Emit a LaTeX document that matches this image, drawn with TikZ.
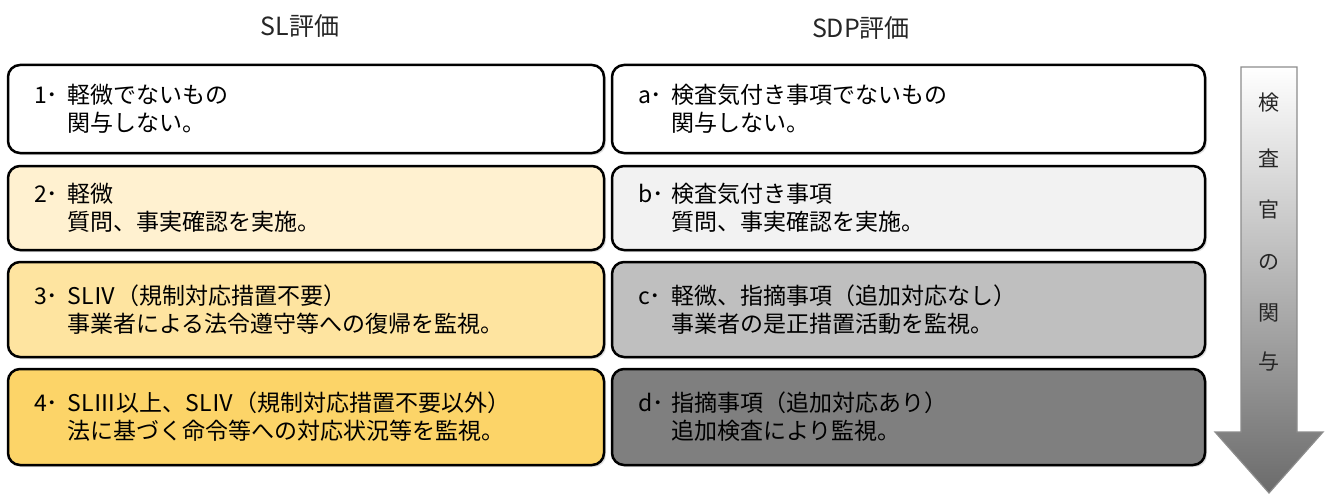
\documentclass[tikz,border=0pt]{standalone}
\usepackage{fontspec}
\setmainfont{Noto Sans CJK JP}
\usetikzlibrary{calc,shadows}
\definecolor{c1}{HTML}{FFFFFF}
\definecolor{c2}{HTML}{FFF1D0}
\definecolor{c3}{HTML}{FEE4A0}
\definecolor{c4}{HTML}{FCD468}
\definecolor{ca}{HTML}{FFFFFF}
\definecolor{cb}{HTML}{F2F2F2}
\definecolor{cc}{HTML}{BFBFBF}
\definecolor{cd}{HTML}{7F7F7F}
\tikzset{
  evalbox/.style={draw=black, line width=2.5pt, rounded corners=12pt,
    inner xsep=26pt, inner ysep=0pt, align=left,
    font=\fontsize{23}{28}\selectfont,
    drop shadow={opacity=0.25, shadow xshift=2pt, shadow yshift=-2pt}},
  leftbox/.style={evalbox, minimum width=596pt, text width=544pt},
  rightbox/.style={evalbox, minimum width=593pt, text width=541pt},
  title/.style={font=\fontsize{25}{28}\selectfont, text=black!85},
  arrowtext/.style={font=\fontsize{21}{24}\selectfont, text=black!85}
}
\newcommand{\lead}[1]{\makebox[1.45em][l]{#1･}}
\newcommand{\ind}{\hspace*{1.45em}}
\begin{document}
\begin{tikzpicture}[x=1pt,y=-1pt]
\useasboundingbox (0,0) rectangle (1330,495);
\fill[white] (0,0) rectangle (1330,495);

\node[title] (tl) at (300,26) {SL評価};
\node[title] (tr) at (861,28) {SDP評価};

\node[leftbox, fill=c1, minimum height=88pt] (s1) at (306,109)
  {\lead{1}軽微でないもの\\\ind 関与しない。};
\node[leftbox, fill=c2, minimum height=84pt] (s2) at (306,208)
  {\lead{2}軽微\\\ind 質問、事実確認を実施。};
\node[leftbox, fill=c3, minimum height=95pt] (s3) at (306,309.5)
  {\lead{3}SLⅣ（規制対応措置不要）\\\ind 事業者による法令遵守等への復帰を監視。};
\node[leftbox, fill=c4, minimum height=96pt] (s4) at (306,417)
  {\lead{4}SLⅢ以上、SLⅣ（規制対応措置不要以外）\\\ind 法に基づく命令等への対応状況等を監視。};

\node[rightbox, fill=ca, minimum height=88pt] (da) at (908.5,109)
  {\lead{a}検査気付き事項でないもの\\\ind 関与しない。};
\node[rightbox, fill=cb, minimum height=84pt] (db) at (908.5,208)
  {\lead{b}検査気付き事項\\\ind 質問、事実確認を実施。};
\node[rightbox, fill=cc, minimum height=95pt] (dc) at (908.5,309.5)
  {\lead{c}軽微、指摘事項（追加対応なし）\\\ind 事業者の是正措置活動を監視。};
\node[rightbox, fill=cd, minimum height=96pt] (dd) at (908.5,417)
  {\lead{d}指摘事項（追加対応あり）\\\ind 追加検査により監視。};

\path[draw=black!45, line width=1.2pt, top color=white, middle color=black!10, bottom color=black!58]
  (1241,67) -- (1297,67) -- (1297,432) -- (1323,432) -- (1269,493)
  -- (1215,432) -- (1241,432) -- cycle;

\node[arrowtext] (k1) at (1269,103) {検};
\node[arrowtext] (k2) at (1269,158) {査};
\node[arrowtext] (k3) at (1269,210) {官};
\node[arrowtext] (k4) at (1269,262) {の};
\node[arrowtext] (k5) at (1269,313) {関};
\node[arrowtext] (k6) at (1269,362) {与};
\end{tikzpicture}
\end{document}
